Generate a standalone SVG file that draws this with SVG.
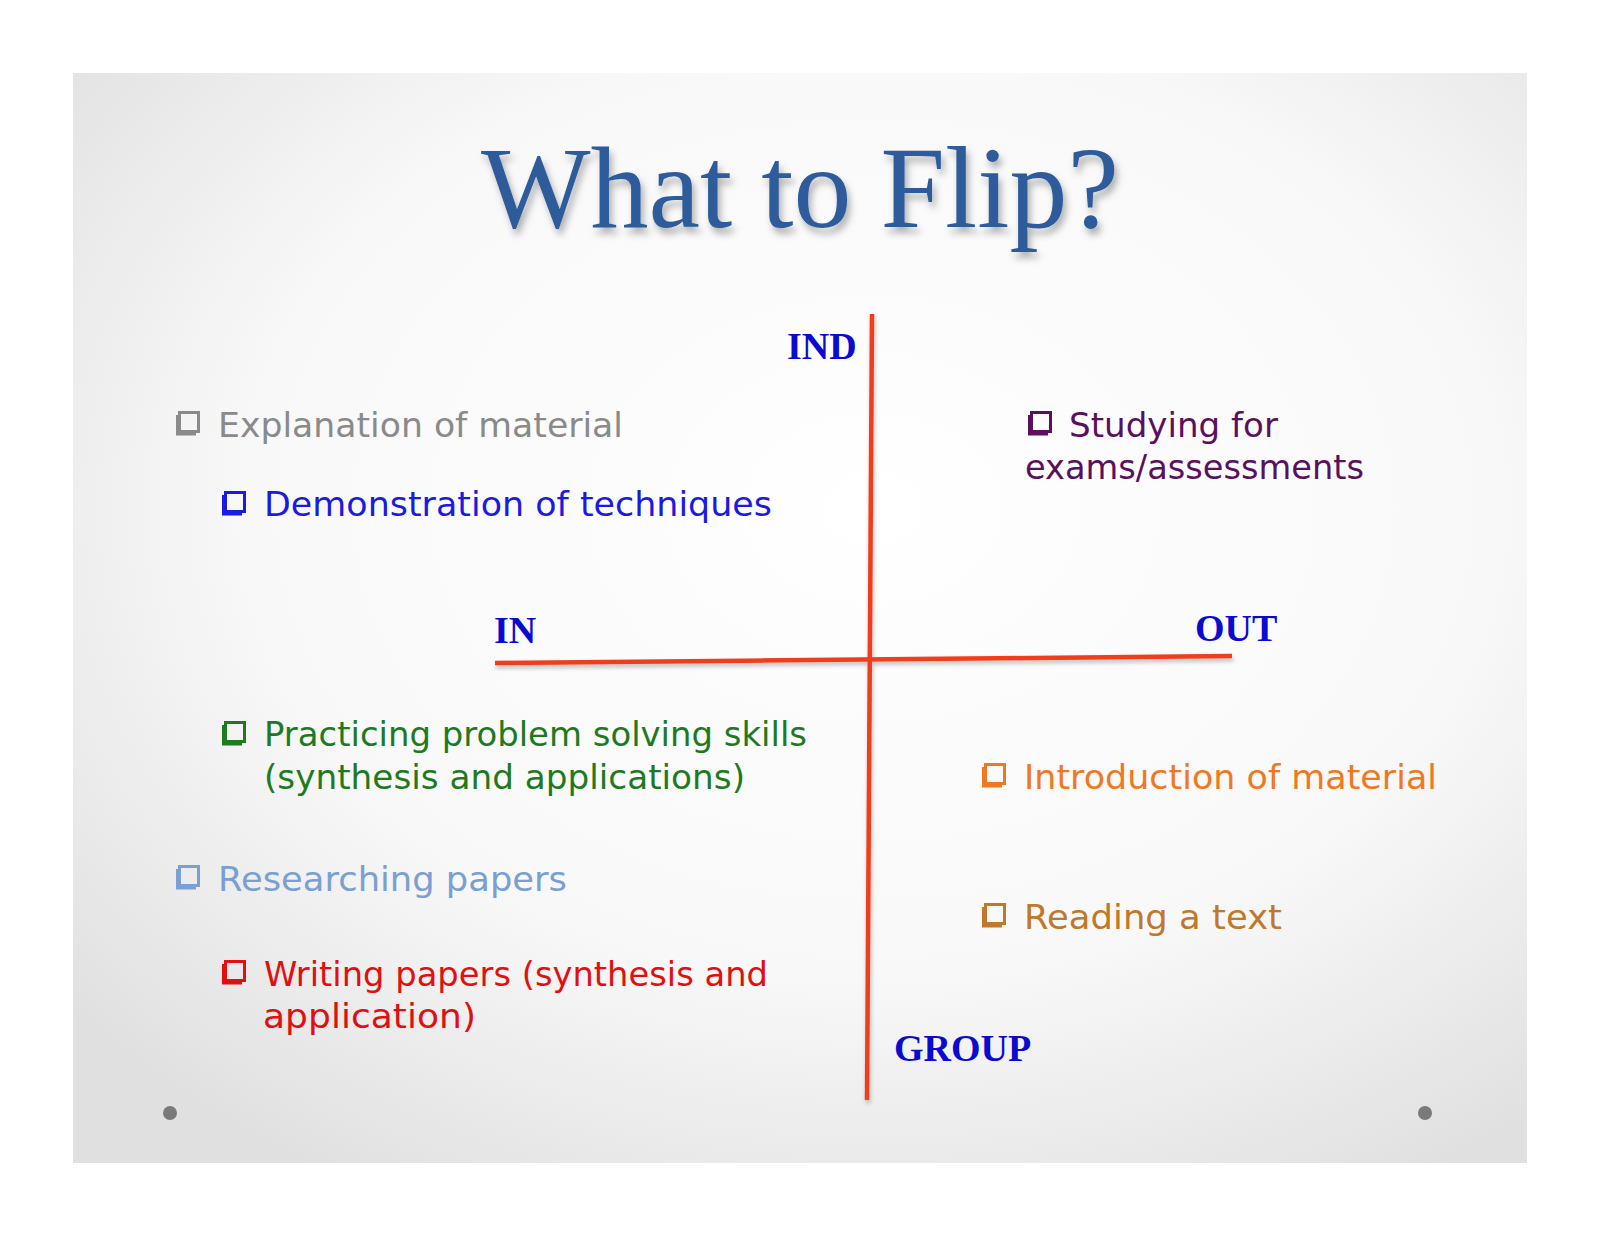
<svg xmlns="http://www.w3.org/2000/svg" xmlns:xlink="http://www.w3.org/1999/xlink" width="1600" height="1236" viewBox="0 0 1600 1236">
<defs>
<radialGradient id="bg" cx="55%" cy="40%" r="72%">
<stop offset="0" stop-color="#ffffff"/>
<stop offset="0.6" stop-color="#f8f8f8"/>
<stop offset="1" stop-color="#e0e0e0"/>
</radialGradient>
<filter id="tsh" x="-10%" y="-20%" width="120%" height="150%">
<feDropShadow dx="3" dy="6" stdDeviation="3.5" flood-color="#000" flood-opacity="0.3"/>
</filter>
<filter id="lsh" x="-5%" y="-5%" width="110%" height="110%">
<feDropShadow dx="1" dy="3" stdDeviation="2" flood-color="#000" flood-opacity="0.25"/>
</filter>
<symbol id="bx" viewBox="0 0 25 25" width="25" height="25" overflow="visible">
<rect x="4.5" y="1.5" width="19" height="19" fill="none" stroke="currentColor" stroke-width="3"/>
<path d="M1,4 L3.5,4 L3.5,21.5 L21,21.5 L21,24.5 L1,24.5 Z" fill="currentColor"/>
</symbol>
</defs>
<style>
.item{font-family:"DejaVu Sans","Liberation Sans",sans-serif;font-size:34px}
.ax{font-family:"Liberation Serif","Times New Roman",serif;font-weight:bold;font-size:38px;fill:#0b0bd0}
.axis{stroke:#f03c1c;stroke-width:4.5;stroke-linecap:butt;fill:none}
</style>
<rect x="0" y="0" width="1600" height="1236" fill="#ffffff"/>
<rect x="73" y="73" width="1454" height="1090" fill="url(#bg)"/>
<circle cx="170" cy="1113" r="7" fill="#7a7a7a"/>
<circle cx="1425" cy="1113" r="7" fill="#7a7a7a"/>
<g id="title">
<text x="800" y="227" text-anchor="middle" font-family="Liberation Serif,'Times New Roman',serif" font-size="116" fill="#2d5b9b" filter="url(#tsh)">What to Flip?</text>
</g>
<g id="connectors" filter="url(#lsh)">
<line class="axis" x1="872" y1="314" x2="867" y2="1100"/>
<line class="axis" x1="495" y1="663" x2="1232" y2="656"/>
</g>
<g id="label-ind"><text class="ax" x="787" y="359">IND</text></g>
<g id="label-in"><text class="ax" x="494" y="643">IN</text></g>
<g id="label-out"><text class="ax" x="1195" y="641">OUT</text></g>
<g id="label-group"><text class="ax" x="894" y="1061">GROUP</text></g>
<g id="explanation" style="color:#8a8a8a">
<use xlink:href="#bx" x="175" y="411"/>
<text class="item" x="218" y="437" fill="#8a8a8a" textLength="405" lengthAdjust="spacingAndGlyphs">Explanation of material</text>
</g>
<g id="demonstration" style="color:#1a1ae0">
<use xlink:href="#bx" x="221" y="491"/>
<text class="item" x="264" y="516" fill="#1a1ae0" textLength="508" lengthAdjust="spacingAndGlyphs">Demonstration of techniques</text>
</g>
<g id="studying" style="color:#5a105e">
<use xlink:href="#bx" x="1027" y="411"/>
<text class="item" x="1069" y="437" fill="#5a105e" textLength="209" lengthAdjust="spacingAndGlyphs">Studying for</text>
<text class="item" x="1025" y="479" fill="#5a105e" textLength="339" lengthAdjust="spacingAndGlyphs">exams/assessments</text>
</g>
<g id="practicing" style="color:#1e7a1e">
<use xlink:href="#bx" x="221" y="721"/>
<text class="item" x="264" y="746" fill="#1e7a1e" textLength="543" lengthAdjust="spacingAndGlyphs">Practicing problem solving skills</text>
<text class="item" x="264" y="789" fill="#1e7a1e" textLength="481" lengthAdjust="spacingAndGlyphs">(synthesis and applications)</text>
</g>
<g id="researching" style="color:#7a9fd2">
<use xlink:href="#bx" x="175" y="865"/>
<text class="item" x="218" y="891" fill="#7a9fd2" textLength="349" lengthAdjust="spacingAndGlyphs">Researching papers</text>
</g>
<g id="writing" style="color:#e01010">
<use xlink:href="#bx" x="221" y="960"/>
<text class="item" x="264" y="986" fill="#e01010" textLength="504" lengthAdjust="spacingAndGlyphs">Writing papers (synthesis and</text>
<text class="item" x="263" y="1028" fill="#e01010" textLength="213" lengthAdjust="spacingAndGlyphs">application)</text>
</g>
<g id="introduction" style="color:#f07820">
<use xlink:href="#bx" x="981" y="763"/>
<text class="item" x="1024" y="789" fill="#f07820" textLength="413" lengthAdjust="spacingAndGlyphs">Introduction of material</text>
</g>
<g id="reading" style="color:#c0782a">
<use xlink:href="#bx" x="981" y="903"/>
<text class="item" x="1024" y="929" fill="#c0782a" textLength="258" lengthAdjust="spacingAndGlyphs">Reading a text</text>
</g>
</svg>
